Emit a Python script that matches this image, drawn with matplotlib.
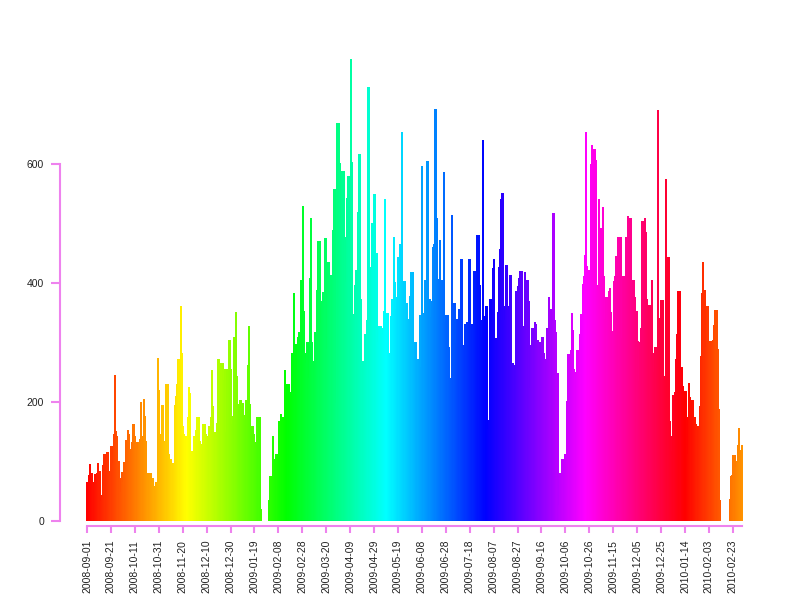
import numpy as np
import pandas as pd
import matplotlib
matplotlib.use('Agg')
import matplotlib.pyplot as plt
import matplotlib.colors as mcolors

# daily counts, starting 2008-09-01
sep_oct_2008 = [66,77,96,66,81,66,79,69,81,97,84,34,43,94,113,113,116,116,84,75,
                126,97,146,245,152,142,101,72,48,82,66,99,136,136,153,146,121,132,163,163,
                143,132,121,133,138,200,143,205]
oct_dec_2008 = [177,134,81,81,81,81,66,72,58,66,66,274,220,146,195,195,133,135,230,230,
                113,104,104,97,97,195,210,231,272,272,361,282,159,146,143,143,174,225,215,117,
                117,143,143,153,174,174,134,130,130,163,163]
dec_jan_2009 = [146,142,142,160,175,253,193,150,150,164,272,272,150,265,265,237,255,150,255,305,
                305,255,163,176,309,352,244,196,196,203,188,198,178,178,203,262,328,196,160,160,
                146,132,132,175,175,175,20]
jan_gap_2009 = [0,0,0,0,0,0]
feb_mar_2009 = [35,76,76,143,77,105,113,113,168,139,180,175,175,254,212,230,230,217,217,283,
                283,383,297,255,310,317,317,405,529,353,283,265,301,241,408,510,301,269,317,317,
                388,471,471,333,370,385,385,475]
mar_may_2009 = [289,435,435,413,413,489,558,558,198,669,669,601,510,588,588,477,402,543,580,580,
                776,603,348,348,397,421,519,617,617,373,269,269,314,295,337,729,427,325,501,501,
                550,451,451,301,327,327,324,314,353,542]
may_jun_2009 = [349,349,283,283,345,373,478,401,356,377,444,466,466,653,403,403,367,367,340,340,
                378,419,419,275,301,301,273,273,346,258,596,349,405,405,605,605,373,342,370,461,
                466,692,510,407,407,472,405,405,587,335]
jun_aug_2009 = [346,346,293,241,241,514,367,367,299,340,340,356,441,441,296,296,331,335,335,441,
                441,321,331,420,420,387,481,481,397,337,310,640,345,361,361,155,169,373,335,425,
                440,308,308,351,427,457,541,551,361,337]
aug_oct_2009 = [430,430,361,413,413,265,265,262,387,387,395,408,420,420,328,327,418,405,405,369,
                223,296,325,325,334,331,305,305,300,285,309,309,283,272,324,324,376,357,357,518,
                518,338,317,249,27,81,81,105,105,113,113]
oct_nov_2009 = [201,281,281,287,350,321,255,251,287,287,272,314,348,398,412,447,653,429,421,421,
                600,632,626,626,607,397,397,542,492,415,527,412,339,376,376,387,391,351,320,403,
                412,445,445,477,477,477,307,412,412,477]
nov_jan_2010 = [478,513,509,509,383,405,405,376,353,303,236,300,324,504,504,509,485,373,363,363,
                361,405,283,250,292,292,691,341,341,371,371,243,243,574,443,443,168,143,117,212,
                216,273,314,387,387,0,259,227,219,219]
jan_mar_2010 = [174,113,232,209,203,203,174,174,163,160,160,193,277,383,435,388,293,361,361,303,
                303,303,305,329,355,355,289,188,35,0,0,0,0,0,0,0,37,75,77,111,
                111,90,100,128,157,119,128,128]

values = np.array(sep_oct_2008 + oct_dec_2008 + dec_jan_2009 + jan_gap_2009 + feb_mar_2009 +
                  mar_may_2009 + may_jun_2009 + jun_aug_2009 + aug_oct_2009 + oct_nov_2009 +
                  nov_jan_2010 + jan_mar_2010)
dates = pd.date_range('2008-09-01', periods=len(values), freq='D')
x = np.arange(len(values))

# rainbow palette of 500 colours, recycled over the bars
n_col = 500
hues = (x % n_col) / n_col
colors = mcolors.hsv_to_rgb(np.column_stack([hues, np.ones_like(hues), np.ones_like(hues)]))

fig = plt.figure(figsize=(8, 6), dpi=100)
ax = fig.add_axes([0.108, 0.1317, 0.8207, 0.7933])

ax.bar(x, values, width=1.0, color=colors, edgecolor=colors, linewidth=0.4, antialiased=False)

ax.set_xlim(-0.5, len(values) - 0.5)
ax.set_ylim(0, 800)

axis_col = '#EE82EE'
for s in ['top', 'right']:
    ax.spines[s].set_visible(False)
ax.spines['left'].set_position(('outward', 19))
ax.spines['left'].set_bounds(0, 600)
ax.spines['bottom'].set_position(('outward', 3.6))
ax.spines['bottom'].set_bounds(0, len(values) - 1)
for s in ['left', 'bottom']:
    ax.spines[s].set_color(axis_col)
    ax.spines[s].set_linewidth(1.5)

tick_idx = np.arange(0, len(values), 20)
ax.set_xticks(tick_idx)
ax.set_xticklabels(dates[tick_idx].strftime('%Y-%m-%d'), rotation=90)
ax.set_yticks([0, 200, 400, 600])

ax.tick_params(axis='both', colors=axis_col, width=1.5, labelcolor='#222222',
               labelsize=7.5)
ax.tick_params(axis='y', length=6.5, pad=5)
ax.tick_params(axis='x', length=5, pad=5)
for lab in ax.get_xticklabels() + ax.get_yticklabels():
    lab.set_family(['Liberation Sans', 'DejaVu Sans'])

fig.savefig('out.png', dpi=100)
